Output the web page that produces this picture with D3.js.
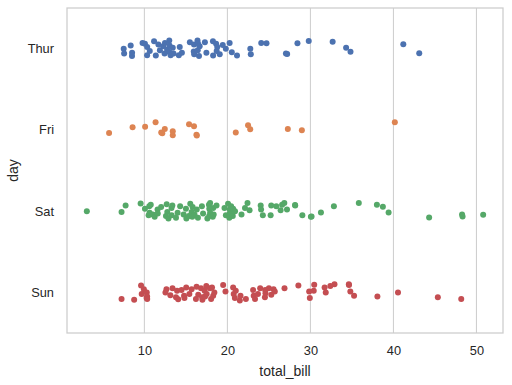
<!DOCTYPE html>
<html>
<head>
<meta charset="utf-8">
<script src="https://cdn.jsdelivr.net/npm/d3@7"></script>
<style>
  body { margin: 0; background: #fff; }
  text { font-family: "Liberation Sans", Arial, sans-serif; fill: #262626; }
</style>
</head>
<body>
<div id="chart"></div>
<script>
// tips dataset: total_bill per day, plus the jitter offset (category units)
const days = ['Thur', 'Fri', 'Sat', 'Sun'];
const colors = ['#4c72b0', '#dd8452', '#55a868', '#c44e52'];
const xTicks = [10, 20, 30, 40, 50];

const thurBill = [7.51, 7.56, 8.35, 8.51, 8.52, 9.78, 10.07, 10.33, 10.34, 10.65, 11.17, 11.38, 11.69, 11.87,
  12.26, 12.43, 12.48, 12.74, 13.00, 13.00, 13.03, 13.16, 13.42, 13.51, 14.15, 14.26, 14.52, 15.48, 15.95, 15.98,
  16.00, 16.40, 16.43, 16.47, 16.58, 16.66, 17.29, 17.47, 18.26, 18.28, 18.64, 18.71, 18.78, 19.08, 19.44, 19.81,
  20.27, 20.53, 21.16, 22.76, 22.82, 24.08, 24.71, 27.05, 27.20, 28.44, 29.80, 32.68, 34.30, 34.83, 41.19, 43.11];
const thurJit = [0.00, 0.06, -0.04, 0.09, 0.05, -0.07, -0.06, 0.08, -0.02, 0.03, -0.09, 0.085, -0.05, 0.02,
  -0.03, 0.06, -0.07, 0.01, -0.1, 0.04, -0.04, 0.08, -0.01, 0.06, 0.08, -0.02, 0.05, -0.08, 0.035, -0.05,
  0.07, -0.1, 0.02, -0.06, 0.09, -0.03, -0.08, 0.05, -0.09, 0.085, -0.06, 0.03, -0.02, 0.07, -0.045, 0.0,
  -0.07, 0.045, 0.085, 0.0, 0.07, -0.068, -0.065, 0.06, 0.065, -0.065, -0.095, -0.086, -0.012, 0.037, -0.053, 0.058];

const friBill = [5.75, 8.58, 10.09, 11.35, 12.03, 12.16, 12.46, 13.42, 13.42, 15.38, 15.98, 16.27, 16.32,
  21.01, 22.49, 22.75, 27.28, 28.97, 40.17];
const friJit = [0.037, -0.033, -0.04, -0.095, 0.033, 0.04, -0.012, 0.016, 0.065, -0.07, -0.045, 0.06, 0.07,
  0.033, -0.057, -0.008, -0.012, 0.004, -0.095];

const satBill = [3.07, 7.25, 7.74, 9.55, 10.07, 10.51, 10.59, 10.63, 10.77, 11.02, 11.24, 11.59, 11.61, 12.02,
  12.60, 12.69, 12.76, 12.90, 13.27, 13.28, 13.37, 13.81, 14.00, 14.31, 14.73, 15.01, 15.06, 15.36, 15.53, 15.69,
  15.77, 15.81, 16.04, 16.31, 16.45, 16.93, 17.07, 17.59, 17.78, 17.81, 17.82, 17.92, 17.92, 18.24, 18.29, 18.35,
  18.69, 19.65, 19.82, 20.08, 20.23, 20.29, 20.29, 20.45, 20.49, 20.65, 20.69, 20.92, 21.70, 22.12, 22.42, 22.67,
  24.01, 24.06, 24.27, 25.21, 25.28, 25.89, 26.41, 26.59, 26.86, 27.18, 28.15, 28.17, 29.03, 30.06, 30.14, 31.27,
  32.83, 35.83, 38.01, 38.73, 39.42, 44.30, 48.27, 48.33, 50.81];
const satJit = [0.0, 0.01, -0.07, -0.095, -0.03, 0.05, -0.06, 0.02, -0.08, 0.04, 0.07, -0.02, 0.03, -0.05,
  0.06, -0.085, 0.01, 0.09, -0.04, 0.05, -0.07, 0.08, 0.02, -0.06, 0.04, -0.03, 0.09, 0.06, -0.09, 0.01,
  0.07, -0.05, 0.04, -0.02, 0.08, -0.06, 0.03, 0.09, -0.08, 0.06, -0.03, 0.02, -0.1, 0.07, -0.04, 0.04,
  -0.07, -0.04, 0.05, -0.09, 0.08, -0.02, 0.03, -0.06, 0.02, 0.06, -0.03, 0.0, 0.04, -0.04, -0.1, -0.01,
  -0.07, -0.02, 0.05, 0.05, -0.07, -0.06, -0.01, -0.08, -0.1, -0.02, -0.075, -0.07, 0.05, 0.07, 0.065, 0.016,
  -0.06, -0.1, -0.08, -0.055, 0.016, 0.077, 0.04, 0.065, 0.045];

const sunBill = [7.25, 8.77, 9.60, 9.68, 9.94, 10.27, 10.29, 10.33, 10.34, 12.54, 12.66, 13.13, 13.39, 13.81,
  13.94, 14.07, 14.48, 14.78, 14.83, 15.04, 15.42, 15.69, 16.21, 16.29, 16.49, 16.82, 16.97, 16.99, 17.26, 17.31,
  17.46, 17.51, 17.89, 18.04, 18.15, 18.29, 18.43, 19.49, 19.77, 20.69, 20.76, 20.90, 21.01, 21.50, 21.58, 22.23,
  23.10, 23.17, 23.33, 23.68, 23.95, 24.52, 24.55, 24.59, 25.00, 25.29, 25.56, 25.71, 26.88, 28.55, 29.85, 29.93,
  30.40, 30.46, 31.71, 31.85, 32.40, 32.90, 34.63, 34.65, 34.81, 35.26, 38.07, 40.55, 45.35, 48.17];
const sunJit = [0.08, 0.09, -0.085, 0.02, -0.04, 0.07, 0.0, 0.05, 0.08, 0.0, -0.04, 0.035, -0.05, 0.06,
  -0.02, 0.085, -0.03, 0.04, 0.07, -0.06, 0.02, -0.04, 0.08, -0.07, 0.03, -0.05, 0.06, 0.09, -0.02, 0.05,
  -0.08, 0.02, -0.05, 0.08, -0.06, 0.04, 0.0, -0.09, -0.01, -0.06, 0.02, 0.07, -0.02, 0.1, 0.04, 0.08,
  -0.03, 0.04, 0.08, 0.02, -0.05, 0.06, -0.03, 0.01, -0.05, 0.03, -0.04, -0.01, -0.05, -0.085, -0.01, 0.07,
  -0.02, -0.095, -0.06, 0.0, -0.08, -0.1, -0.1, -0.09, -0.01, 0.04, 0.05, 0.0, 0.06, 0.08];

const bills = [thurBill, friBill, satBill, sunBill];
const jits = [thurJit, friJit, satJit, sunJit];

const width = 512, height = 385;
const margin = { top: 8, right: 9, bottom: 52, left: 67 };
const innerW = width - margin.left - margin.right;
const innerH = height - margin.top - margin.bottom;

const svg = d3.select('#chart').append('svg')
  .attr('width', width)
  .attr('height', height);

const g = svg.append('g')
  .attr('transform', `translate(${margin.left},${margin.top})`);

const x = d3.scaleLinear().domain([0.68, 53.2]).range([0, innerW]);
const y = d3.scalePoint().domain(days).range([0, innerH]).padding(0.5);

// vertical grid
g.selectAll('.grid')
  .data(xTicks)
  .enter().append('line')
  .attr('class', 'grid')
  .attr('x1', d => x(d)).attr('x2', d => x(d))
  .attr('y1', 0).attr('y2', innerH)
  .attr('stroke', '#cccccc')
  .attr('stroke-width', 1);

// points
const points = [];
days.forEach((day, i) => {
  bills[i].forEach((v, k) => points.push({ day: day, i: i, bill: v, jit: jits[i][k] || 0 }));
});

g.selectAll('.dot')
  .data(points)
  .enter().append('circle')
  .attr('class', 'dot')
  .attr('cx', d => x(d.bill))
  .attr('cy', d => y(d.day) + d.jit * y.step())
  .attr('r', 3)
  .attr('fill', d => colors[d.i]);

// axes
const xAxis = g.append('g')
  .attr('transform', `translate(0,${innerH})`)
  .call(d3.axisBottom(x).tickValues(xTicks).tickSize(0).tickPadding(13));
xAxis.select('.domain').remove();
xAxis.selectAll('text').style('font-size', '12.8px').style('font-family', null);

const yAxis = g.append('g')
  .call(d3.axisLeft(y).tickSize(0).tickPadding(13));
yAxis.select('.domain').remove();
yAxis.selectAll('text').style('font-size', '12.8px').style('font-family', null);

// frame
g.append('rect')
  .attr('x', 0).attr('y', 0)
  .attr('width', innerW).attr('height', innerH)
  .attr('fill', 'none')
  .attr('stroke', '#cccccc')
  .attr('stroke-width', 1.25);

// labels
svg.append('text')
  .attr('x', margin.left + innerW / 2)
  .attr('y', 376)
  .attr('text-anchor', 'middle')
  .style('font-size', '14px')
  .text('total_bill');

svg.append('text')
  .attr('transform', `translate(18,${margin.top + innerH / 2}) rotate(-90)`)
  .attr('text-anchor', 'middle')
  .style('font-size', '14px')
  .text('day');
</script>
</body>
</html>
